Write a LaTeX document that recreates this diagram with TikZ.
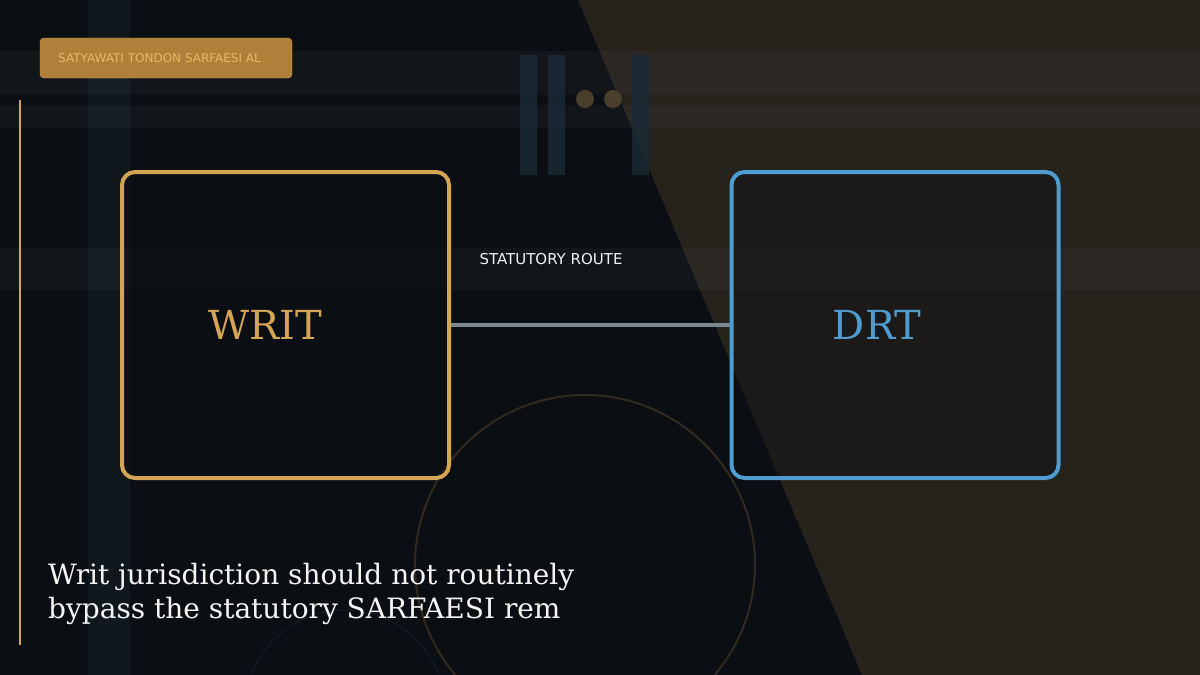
\documentclass[tikz,border=0pt]{standalone}
\usepackage{fontspec}
\setmainfont{DejaVu Serif}
\setsansfont{DejaVu Sans}
\definecolor{bgdark}{HTML}{0B0E12}
\definecolor{bgwarm}{HTML}{2A251E}
\definecolor{gold}{HTML}{D4A555}
\definecolor{tagfill}{HTML}{B0803A}
\definecolor{tagtext}{HTML}{E8B868}
\definecolor{skyblue}{HTML}{4F9CD0}
\definecolor{routegray}{HTML}{7A8894}
\definecolor{barblue}{HTML}{1B2B37}
\definecolor{dotbrown}{HTML}{4A3E2C}
\begin{document}
\begin{tikzpicture}
[
    x=1pt, y=-1pt,
    panel/.style={draw, line width=4pt, rounded corners=13pt, minimum width=327pt, minimum height=306pt},
    band/.style={fill=white, opacity=0.03},
    bar/.style={fill=barblue, opacity=0.8},
]
\useasboundingbox (0,0) rectangle (1200,675);
\fill[bgdark] (0,0) rectangle (1200,675);
\fill[bgwarm, opacity=0.9] (578,0) -- (1200,0) -- (1200,675) -- (862,675) -- cycle;
\fill[barblue, opacity=0.35] (88,0) rectangle (130,675);
\fill[band] (0,51) rectangle (1200,95);
\fill[band] (0,105) rectangle (1200,128);
\fill[band] (0,248) rectangle (1200,290);
\foreach \xx in {520,548,632}
    \fill[bar] (\xx,55) rectangle ++(17,120);
\foreach \xx in {585,613}
    \fill[dotbrown] (\xx,99) circle (9);
\draw[dotbrown, line width=2pt, opacity=0.6] (585,565) circle (170);
\draw[barblue, line width=1pt, opacity=0.5] (345,710) circle (100);
\draw[gold, line width=2pt] (20,100) -- (20,645);
\node[fill=tagfill, draw=gold, rounded corners=4pt, minimum width=252pt, minimum height=40pt, inner sep=0pt] (tag) at (166,58) {};
\node[anchor=west, text=tagtext, font=\sffamily\fontsize{12}{14}\selectfont, inner sep=0pt] (tagtext) at (58,58) {SATYAWATI TONDON SARFAESI AL};
\node[panel, draw=gold, fill=bgdark, fill opacity=0.6, text opacity=1] (writ) at (285.5,325) {};
\node[text=gold, font=\fontsize{40}{48}\selectfont] (writlabel) at (265,325) {WRIT};
\node[panel, draw=skyblue, fill=bgdark, fill opacity=0.4, text opacity=1] (drt) at (895,325) {};
\node[text=skyblue, font=\fontsize{40}{48}\selectfont] (drtlabel) at (877,325) {DRT};
\draw[routegray, line width=4pt] (writ.east) -- (drt.west);
\node[text=white!90!gray, font=\sffamily\fontsize{15}{18}\selectfont] (route) at (551,259) {STATUTORY ROUTE};
\node[anchor=north west, align=left, text=white!92!gray, font=\fontsize{28}{34}\selectfont, inner sep=0pt] (caption) at (48,563)
    {Writ jurisdiction should not routinely\\bypass the statutory SARFAESI rem};
\end{tikzpicture}
\end{document}
